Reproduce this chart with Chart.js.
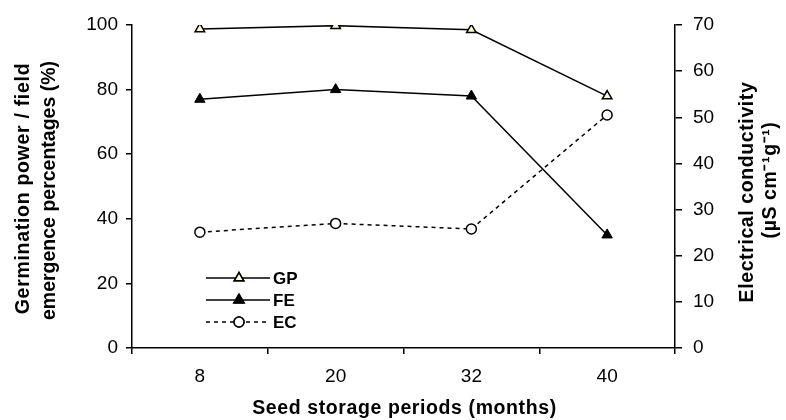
<!DOCTYPE html>
<html>
<head>
<meta charset="utf-8">
<script src="https://cdn.jsdelivr.net/npm/chart.js@4.4.1/dist/chart.umd.min.js"></script>
<style>
  html, body { margin: 0; padding: 0; background: #fff; }
  #wrap { width: 786px; height: 420px; }
</style>
</head>
<body>
<div id="wrap"><canvas id="chart" width="786" height="420"></canvas></div>
<script>
// storage periods (months)
const periods = ['8', '20', '32', '40'];
// germination power (%) and field emergence (%)
const gp = [98.8, 99.8, 98.5, 78];
const fe = [77, 80, 78, 35];
// electrical conductivity (uS cm-1 g-1), right axis
const ec = [25.1, 27.0, 25.8, 50.5];

const leftTicks = { min: 0, max: 100, step: 20 };
const rightTicks = { min: 0, max: 70, step: 10 };

const FONT = "'Liberation Sans', Arial, sans-serif";

// little legend in the lower left, line + marker like the original
const legendBox = {
  id: 'legendBox',
  afterDraw(c) {
    const ctx = c.ctx;
    const x0 = 206, x1 = 270, rows = [278, 300, 322];
    c.data.datasets.forEach((ds, i) => {
      const y = rows[i];
      ctx.save();
      ctx.strokeStyle = ds.borderColor;
      ctx.lineWidth = ds.borderWidth;
      ctx.setLineDash(ds.borderDash || []);
      ctx.beginPath();
      ctx.moveTo(x0, y);
      ctx.lineTo(x1, y);
      ctx.stroke();
      ctx.setLineDash([]);
      Chart.helpers.drawPoint(ctx, {
        pointStyle: ds.pointStyle,
        radius: ds.pointRadius,
        borderWidth: ds.pointBorderWidth
      }, 239, y);
      ctx.fillStyle = ds.pointBackgroundColor;
      ctx.strokeStyle = ds.pointBorderColor;
      ctx.lineWidth = ds.pointBorderWidth;
      ctx.fill();
      ctx.stroke();
      ctx.fillStyle = '#000';
      ctx.font = 'bold 17px ' + FONT;
      ctx.textBaseline = 'middle';
      ctx.fillText(ds.label, 273, y + 1);
      ctx.restore();
    });
  }
};

// axis titles, drawn by hand so the spacing and the right one's direction match
function titleText(ctx, text, x, y, rot, spacing) {
  ctx.save();
  ctx.fillStyle = '#000';
  ctx.font = 'bold 19.5px ' + FONT;
  ctx.letterSpacing = spacing + 'px';
  ctx.textAlign = 'center';
  ctx.textBaseline = 'middle';
  ctx.translate(x, y);
  if (rot) ctx.rotate(rot);
  ctx.fillText(text, 0, 0);
  ctx.restore();
}

const axisTitles = {
  id: 'axisTitles',
  afterDraw(c) {
    const ctx = c.ctx;
    const a = c.chartArea;
    const mid = (a.top + a.bottom) / 2;
    titleText(ctx, 'Germination power / field', 24, mid + 2, -Math.PI / 2, 0.7);
    titleText(ctx, 'emergence percentages (%)', 50, mid + 4, -Math.PI / 2, 0);
    titleText(ctx, 'Electrical conductivity', 748, 192, -Math.PI / 2, 0.6);
    titleText(ctx, '(µS cm⁻¹g⁻¹)', 771, 180, -Math.PI / 2, 0.6);
    titleText(ctx, 'Seed storage periods (months)', (a.left + a.right) / 2 + 1, 409, 0, 0.6);
  }
};

new Chart(document.getElementById('chart'), {
  type: 'line',
  data: {
    labels: periods,
    datasets: [
      {
        label: 'GP',
        data: gp,
        yAxisID: 'y',
        borderColor: '#000',
        borderWidth: 1.5,
        pointStyle: 'triangle',
        pointRadius: 5.5,
        pointBackgroundColor: '#ffffcc',
        pointBorderColor: '#000',
        pointBorderWidth: 1.5,
        tension: 0
      },
      {
        label: 'FE',
        data: fe,
        yAxisID: 'y',
        borderColor: '#000',
        borderWidth: 1.5,
        pointStyle: 'triangle',
        pointRadius: 6,
        pointBackgroundColor: '#000',
        pointBorderColor: '#000',
        pointBorderWidth: 1,
        tension: 0
      },
      {
        label: 'EC',
        data: ec,
        yAxisID: 'y1',
        borderColor: '#000',
        borderWidth: 1.5,
        borderDash: [4, 4],
        pointStyle: 'circle',
        pointRadius: 5,
        pointBackgroundColor: '#fff',
        pointBorderColor: '#000',
        pointBorderWidth: 1.5,
        tension: 0
      }
    ]
  },
  options: {
    responsive: false,
    animation: false,
    devicePixelRatio: 1,
    layout: { padding: { top: 25, left: 0, right: 0, bottom: 0 } },
    plugins: { legend: { display: false }, tooltip: { enabled: false } },
    scales: {
      x: {
        offset: true,
        grid: { offset: true, drawOnChartArea: false, color: '#000', tickLength: 6, lineWidth: 1.5 },
        border: { color: '#000', width: 1.5 },
        ticks: { color: '#000', font: { family: FONT, size: 19 }, padding: 11 },
        afterFit(s) { s.height = 72; }
      },
      y: {
        position: 'left',
        min: leftTicks.min,
        max: leftTicks.max,
        grid: { drawOnChartArea: false, color: '#000', tickLength: 6, lineWidth: 1.5 },
        border: { color: '#000', width: 1.5 },
        ticks: { stepSize: leftTicks.step, color: '#000', font: { family: FONT, size: 19 }, padding: 8 },
        afterFit(s) { s.width = 132; }
      },
      y1: {
        position: 'right',
        min: rightTicks.min,
        max: rightTicks.max,
        grid: { drawOnChartArea: false, color: '#000', tickLength: 7, lineWidth: 1.5 },
        border: { color: '#000', width: 1.5 },
        ticks: { stepSize: rightTicks.step, color: '#000', font: { family: FONT, size: 19 }, padding: 11 },
        afterFit(s) { s.width = 111; }
      }
    }
  },
  plugins: [legendBox, axisTitles]
});
</script>
</body>
</html>
